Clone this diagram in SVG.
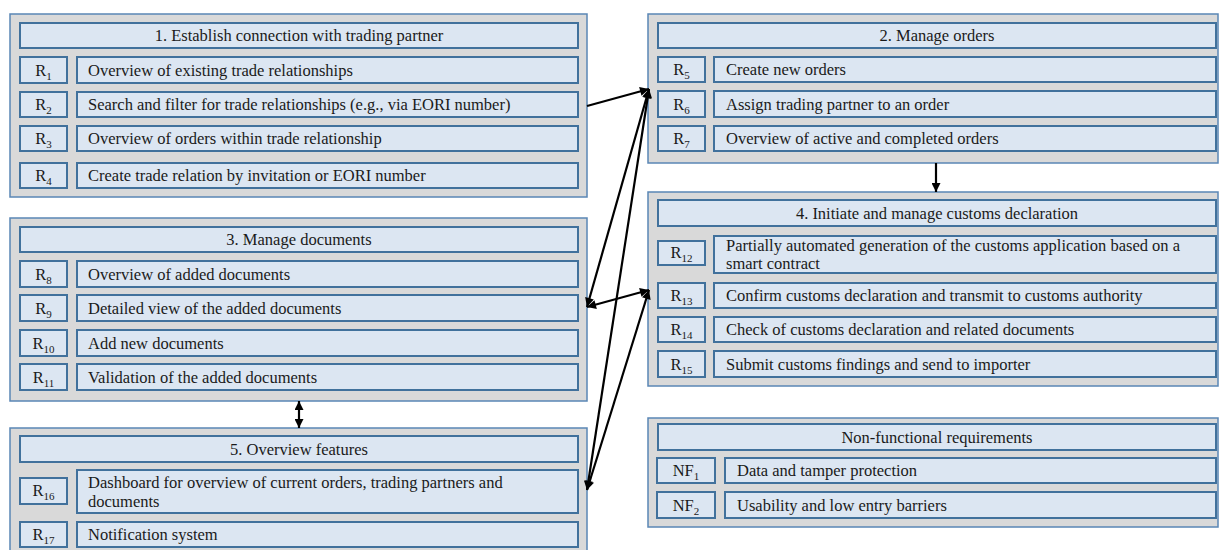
<svg xmlns="http://www.w3.org/2000/svg" width="1220" height="550" viewBox="0 0 1220 550">
<defs>
<style>
.outer{fill:#d9d9d9;stroke:#5a86b5;stroke-width:1.5}
.box{fill:#dce6f2;stroke:#41719c;stroke-width:2}
text{font-family:"Liberation Serif","Times New Roman",serif;font-size:16.5px;fill:#1a1a1a}
.c{text-anchor:middle}
.s{font-size:11px}
.con{stroke:#000;stroke-width:2.2;fill:none}
</style>
<marker id="ah" viewBox="0 0 10 10" refX="10" refY="5" markerWidth="11" markerHeight="9" markerUnits="userSpaceOnUse" orient="auto-start-reverse">
<path d="M0,0 L10,5 L0,10 Z" fill="#000"/>
</marker>
</defs>
<rect width="1220" height="550" fill="#fff"/>

<g id="panel1">
<rect class="outer" x="10" y="14" width="577" height="183"/>
<rect class="box" x="20" y="23" width="558" height="25"/>
<text class="c" x="299" y="41">1. Establish connection with trading partner</text>
<rect class="box" x="20" y="57" width="47" height="26"/><rect class="box" x="77" y="57" width="501" height="26"/>
<text class="c" x="43.5" y="76">R<tspan class="s" dy="4">1</tspan></text>
<text x="88" y="76">Overview of existing trade relationships</text>
<rect class="box" x="20" y="92" width="47" height="25"/><rect class="box" x="77" y="92" width="501" height="25"/>
<text class="c" x="43.5" y="110">R<tspan class="s" dy="4">2</tspan></text>
<text x="88" y="110">Search and filter for trade relationships (e.g., via EORI number)</text>
<rect class="box" x="20" y="126" width="47" height="25"/><rect class="box" x="77" y="126" width="501" height="25"/>
<text class="c" x="43.5" y="144">R<tspan class="s" dy="4">3</tspan></text>
<text x="88" y="144">Overview of orders within trade relationship</text>
<rect class="box" x="20" y="163" width="47" height="25"/><rect class="box" x="77" y="163" width="501" height="25"/>
<text class="c" x="43.5" y="181">R<tspan class="s" dy="4">4</tspan></text>
<text x="88" y="181">Create trade relation by invitation or EORI number</text>
</g>

<g id="panel2">
<rect class="outer" x="648" y="14" width="570" height="149"/>
<rect class="box" x="658" y="23" width="558" height="25"/>
<text class="c" x="937" y="41">2. Manage orders</text>
<rect class="box" x="658" y="57" width="47" height="25"/><rect class="box" x="714" y="57" width="502" height="25"/>
<text class="c" x="681.5" y="75">R<tspan class="s" dy="4">5</tspan></text>
<text x="726" y="75">Create new orders</text>
<rect class="box" x="658" y="91" width="47" height="26"/><rect class="box" x="714" y="91" width="502" height="26"/>
<text class="c" x="681.5" y="110">R<tspan class="s" dy="4">6</tspan></text>
<text x="726" y="110">Assign trading partner to an order</text>
<rect class="box" x="658" y="126" width="47" height="25"/><rect class="box" x="714" y="126" width="502" height="25"/>
<text class="c" x="681.5" y="144">R<tspan class="s" dy="4">7</tspan></text>
<text x="726" y="144">Overview of active and completed orders</text>
</g>

<g id="panel3">
<rect class="outer" x="10" y="218" width="577" height="183"/>
<rect class="box" x="20" y="227" width="558" height="25"/>
<text class="c" x="299" y="245">3. Manage documents</text>
<rect class="box" x="20" y="261" width="47" height="26"/><rect class="box" x="77" y="261" width="501" height="26"/>
<text class="c" x="43.5" y="280">R<tspan class="s" dy="4">8</tspan></text>
<text x="88" y="280">Overview of added documents</text>
<rect class="box" x="20" y="295" width="47" height="26"/><rect class="box" x="77" y="295" width="501" height="26"/>
<text class="c" x="43.5" y="314">R<tspan class="s" dy="4">9</tspan></text>
<text x="88" y="314">Detailed view of the added documents</text>
<rect class="box" x="20" y="330" width="47" height="26"/><rect class="box" x="77" y="330" width="501" height="26"/>
<text class="c" x="43.5" y="349">R<tspan class="s" dy="4">10</tspan></text>
<text x="88" y="349">Add new documents</text>
<rect class="box" x="20" y="364" width="47" height="26"/><rect class="box" x="77" y="364" width="501" height="26"/>
<text class="c" x="43.5" y="383">R<tspan class="s" dy="4">11</tspan></text>
<text x="88" y="383">Validation of the added documents</text>
</g>

<g id="panel4">
<rect class="outer" x="648" y="192" width="570" height="194"/>
<rect class="box" x="658" y="200" width="558" height="26"/>
<text class="c" x="937" y="219">4. Initiate and manage customs declaration</text>
<rect class="box" x="658" y="241" width="47" height="24"/><rect class="box" x="714" y="236" width="502" height="37"/>
<text class="c" x="681.5" y="258">R<tspan class="s" dy="4">12</tspan></text>
<text x="726" y="251">Partially automated generation of the customs application based on a</text>
<text x="726" y="269">smart contract</text>
<rect class="box" x="658" y="283" width="47" height="25"/><rect class="box" x="714" y="283" width="502" height="25"/>
<text class="c" x="681.5" y="301">R<tspan class="s" dy="4">13</tspan></text>
<text x="726" y="301">Confirm customs declaration and transmit to customs authority</text>
<rect class="box" x="658" y="317" width="47" height="25"/><rect class="box" x="714" y="317" width="502" height="25"/>
<text class="c" x="681.5" y="335">R<tspan class="s" dy="4">14</tspan></text>
<text x="726" y="335">Check of customs declaration and related documents</text>
<rect class="box" x="658" y="351" width="47" height="26"/><rect class="box" x="714" y="351" width="502" height="26"/>
<text class="c" x="681.5" y="370">R<tspan class="s" dy="4">15</tspan></text>
<text x="726" y="370">Submit customs findings and send to importer</text>
</g>

<g id="panel5">
<rect class="outer" x="10" y="428" width="577" height="130"/>
<rect class="box" x="20" y="436" width="558" height="26"/>
<text class="c" x="299" y="455">5. Overview features</text>
<rect class="box" x="20" y="478" width="47" height="26"/><rect class="box" x="77" y="470" width="501" height="43"/>
<text class="c" x="43.5" y="496">R<tspan class="s" dy="4">16</tspan></text>
<text x="88" y="488">Dashboard for overview of current orders, trading partners and</text>
<text x="88" y="507">documents</text>
<rect class="box" x="20" y="522" width="47" height="25"/><rect class="box" x="77" y="522" width="501" height="25"/>
<text class="c" x="43.5" y="540">R<tspan class="s" dy="4">17</tspan></text>
<text x="88" y="540">Notification system</text>
</g>

<g id="nonfunctional">
<rect class="outer" x="648" y="418" width="570" height="109"/>
<rect class="box" x="658" y="424" width="558" height="26"/>
<text class="c" x="937" y="443">Non-functional requirements</text>
<rect class="box" x="657" y="458" width="58" height="25"/><rect class="box" x="725" y="458" width="491" height="25"/>
<text class="c" x="686" y="476">NF<tspan class="s" dy="4">1</tspan></text>
<text x="737" y="476">Data and tamper protection</text>
<rect class="box" x="657" y="492" width="58" height="26"/><rect class="box" x="725" y="492" width="491" height="26"/>
<text class="c" x="686" y="511">NF<tspan class="s" dy="4">2</tspan></text>
<text x="737" y="511">Usability and low entry barriers</text>
</g>

<g id="connectors">
<line class="con" x1="587" y1="106" x2="649" y2="89" marker-end="url(#ah)"/>
<line class="con" x1="649" y1="89" x2="587" y2="307" marker-start="url(#ah)" marker-end="url(#ah)"/>
<line class="con" x1="649" y1="89" x2="587" y2="490" marker-start="url(#ah)" marker-end="url(#ah)"/>
<line class="con" x1="587" y1="307" x2="649" y2="290" marker-start="url(#ah)" marker-end="url(#ah)"/>
<line class="con" x1="649" y1="290" x2="587" y2="490" marker-start="url(#ah)" marker-end="url(#ah)"/>
<line class="con" x1="936" y1="163" x2="936" y2="192" marker-end="url(#ah)"/>
<line class="con" x1="299" y1="401" x2="299" y2="428" marker-start="url(#ah)" marker-end="url(#ah)"/>
</g>
</svg>
